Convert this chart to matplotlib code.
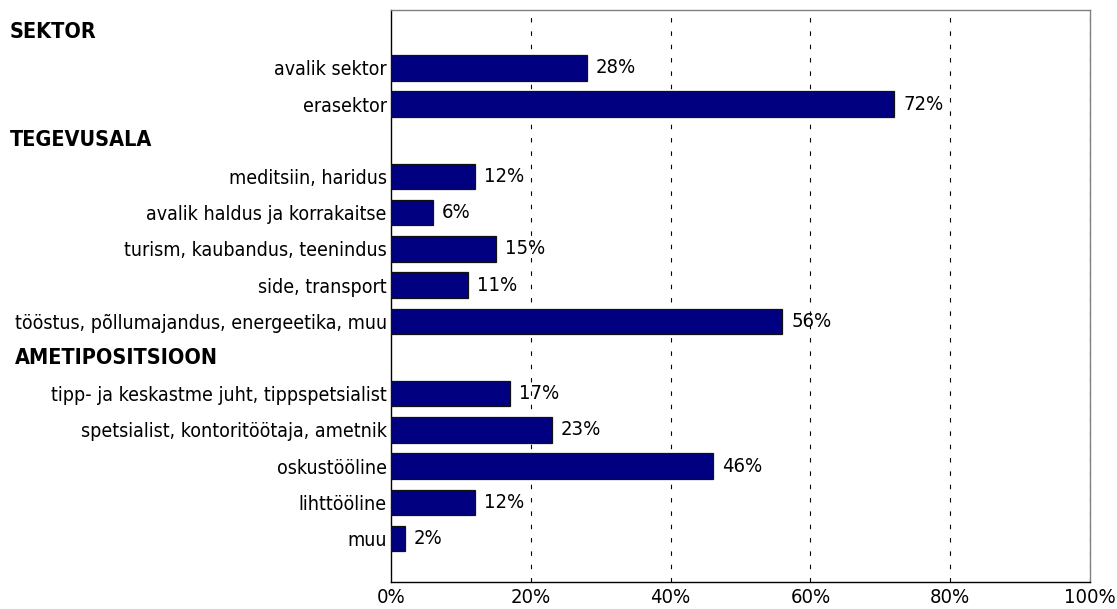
import matplotlib
matplotlib.use('Agg')
import matplotlib.pyplot as plt
from matplotlib import font_manager, transforms

# look for a narrow font, like the reference
narrow = None
for f in font_manager.fontManager.ttflist:
    if 'Narrow' in f.name or 'Condensed' in f.name or f.stretch in ('condensed', 'semi-condensed', 'extra-condensed'):
        narrow = f
        break
if narrow is not None:
    plt.rcParams['font.family'] = [narrow.name, 'DejaVu Sans']
    plt.rcParams['font.stretch'] = narrow.stretch
    fs = 14
else:
    plt.rcParams['font.family'] = ['DejaVu Sans']
    fs = 12

# rows top to bottom; None = group header
labels = ['SEKTOR', 'avalik sektor', 'erasektor',
          'TEGEVUSALA', 'meditsiin, haridus', 'avalik haldus ja korrakaitse',
          'turism, kaubandus, teenindus', 'side, transport',
          'tööstus, põllumajandus, energeetika, muu',
          'AMETIPOSITSIOON', 'tipp- ja keskastme juht, tippspetsialist',
          'spetsialist, kontoritöötaja, ametnik', 'oskustööline',
          'lihttööline', 'muu']
values = [None, 28, 72,
          None, 12, 6, 15, 11, 56,
          None, 17, 23, 46, 12, 2]
ticks = [0, 20, 40, 60, 80, 100]

fig = plt.figure(figsize=(11.17, 6.09), dpi=100)
ax = fig.add_axes([391/1117, 1-582/609, (1090-391)/1117, (582-10)/609])
trans = transforms.blended_transform_factory(fig.transFigure, ax.transData)

for i, (lab, v) in enumerate(zip(labels, values)):
    if v is None:
        x0 = 15 if lab == 'AMETIPOSITSIOON' else 10
        fig.text(x0/1117, i, lab, fontsize=fs + 1.5, fontweight='bold', va='center',
                 ha='left', transform=trans)
    else:
        ax.barh(i, v, height=0.7, color='#000080', edgecolor='#111111', linewidth=0.9, zorder=3)
        ax.text(v + 1.3, i, f'{v}%', va='center', ha='left', fontsize=fs + 0.5, zorder=4)

ax.set_ylim(15.2, -0.6)
ax.set_xlim(0, 100)
ytick_pos = [i for i, v in enumerate(values) if v is not None]
ax.set_yticks(ytick_pos)
ax.set_yticklabels([labels[i] for i in ytick_pos], fontsize=fs)
ax.tick_params(axis='y', length=0, pad=3)
ax.set_xticks(ticks)
ax.set_xticklabels([f'{t}%' for t in ticks], fontsize=fs + 0.5)
ax.tick_params(axis='x', length=0, pad=4)

for t in ticks[1:]:
    ax.axvline(t, color='black', linestyle=(0, (4, 8)), linewidth=0.8, zorder=2)

ax.spines['left'].set_color('black')
ax.spines['bottom'].set_color('black')
ax.spines['top'].set_color('#808080')
ax.spines['right'].set_color('#808080')
for s in ax.spines.values():
    s.set_linewidth(1.0)

fig.savefig('out.png', dpi=100)
